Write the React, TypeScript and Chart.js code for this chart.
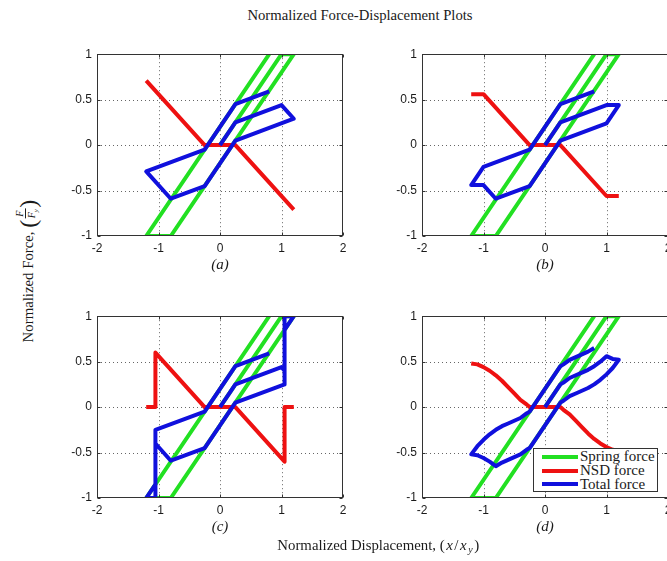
import React, { useEffect, useRef } from 'react';
import { Chart, registerables } from 'chart.js';

Chart.register(...registerables);

// ---- data ----
const xTicks = [-2, -1, 0, 1, 2];
const yTicks = [-1, -0.5, 0, 0.5, 1];
const seriesNames = ['Spring force', 'NSD force', 'Total force'];

// spring force (elasto-plastic, same in every panel)
const springX = [0, 1.0, 1.2, -0.8, -1.2, 0.8];
const springY = [0, 1.0, 1.0, -1.0, -1.0, 1.0];

// (a)
const nsdAX = [-1.2, -0.25, 0.25, 1.2];
const nsdAY = [0.71, 0, 0, -0.71];
const totAX = [0, 0.25, 1.0, 1.2, 0.25, -0.25, -0.8, -1.2, -0.25, 0.25, 0.8];
const totAY = [0, 0.25, 0.44, 0.29, 0.05, -0.45, -0.59, -0.29, -0.05, 0.45, 0.59];

// (b)
const nsdBX = [-1.2, -1.0, -0.25, 0.25, 1.0, 1.2];
const nsdBY = [0.56, 0.56, 0, 0, -0.56, -0.56];
const totBX = [0, 0.25, 1.0, 1.2, 1.0, 0.25, -0.25, -0.8, -1.0, -1.2, -1.0, -0.25, 0.25, 0.8];
const totBY = [0, 0.25, 0.44, 0.44, 0.24, 0.05, -0.45, -0.59, -0.44, -0.44, -0.24, -0.05, 0.45, 0.59];

// (c)
const nsdCX = [-1.2, -1.05, -1.05, -0.25, 0.25, 1.05, 1.05, 1.2];
const nsdCY = [0, 0, 0.6, 0, 0, -0.6, 0, 0];
const totCX = [0, 0.25, 1.0, 1.05, 1.05, 1.2, 1.05, 1.05, 0.25, -0.25, -0.8, -1.05, -1.05, -1.2, -1.05, -1.05, -0.25, 0.25, 0.8];
const totCY = [0, 0.25, 0.44, 0.4, 1.0, 1.0, 0.85, 0.25, 0.05, -0.45, -0.59, -0.4, -1.0, -1.0, -0.85, -0.25, -0.05, 0.45, 0.59];

// (d)
const nsdDX = [-1.2, -1.1, -1.0, -0.9, -0.8, -0.7, -0.6, -0.5, -0.4, -0.3, -0.25, 0.25, 0.3, 0.4, 0.5, 0.6, 0.7, 0.8, 0.9, 1.0, 1.1, 1.2];
const nsdDY = [0.48, 0.47, 0.44, 0.4, 0.35, 0.29, 0.22, 0.15, 0.08, 0.03, 0, 0, -0.03, -0.08, -0.15, -0.22, -0.29, -0.35, -0.4, -0.44, -0.47, -0.48];
const totDX = [
  0, 0.25, 0.3, 0.4, 0.5, 0.6, 0.7, 0.8, 0.9, 1.0, 1.1, 1.2,
  1.1, 1.0, 0.9, 0.8, 0.7, 0.6, 0.5, 0.4, 0.3, 0.25,
  -0.25, -0.3, -0.4, -0.5, -0.6, -0.7, -0.8, -0.9, -1.0, -1.1, -1.2,
  -1.1, -1.0, -0.9, -0.8, -0.7, -0.6, -0.5, -0.4, -0.3, -0.25,
  0.25, 0.3, 0.4, 0.5, 0.6, 0.7, 0.8,
];
const totDY = [
  0, 0.25, 0.27, 0.32, 0.35, 0.38, 0.41, 0.45, 0.5, 0.56, 0.53, 0.52,
  0.43, 0.36, 0.3, 0.25, 0.21, 0.18, 0.15, 0.12, 0.07, 0.05,
  -0.45, -0.47, -0.52, -0.55, -0.58, -0.61, -0.65, -0.6, -0.56, -0.53, -0.52,
  -0.43, -0.36, -0.3, -0.25, -0.21, -0.18, -0.15, -0.12, -0.07, -0.05,
  0.45, 0.47, 0.52, 0.55, 0.58, 0.61, 0.65,
];

// ---- styles ----
const GREEN = '#22e022';
const RED = '#ee1111';
const BLUE = '#1010dd';
const TEXT = '#1a1a1a';
const SERIF = '"Liberation Serif", "Times New Roman", serif';
const SANS = '"Liberation Sans", Arial, sans-serif';

const PLOT_W = 246;
const PLOT_H = 189;
const AXIS_W = 40;
const AXIS_H = 40;
const PAD_TOP = 5;
const PAD_RIGHT = 12;

const pts = (xs: number[], ys: number[]) => xs.map((x, i) => ({ x, y: ys[i] }));

const matlabAxes = {
  id: 'matlabAxes',
  beforeDatasetsDraw(chart: any) {
    const { ctx, chartArea: a, scales } = chart;
    const x = scales.x;
    const y = scales.y;
    ctx.save();
    ctx.strokeStyle = '#666';
    ctx.lineWidth = 1;
    ctx.setLineDash([1, 3]);
    xTicks.forEach((v) => {
      if (v <= x.min || v >= x.max) return;
      const p = Math.round(x.getPixelForValue(v)) + 0.5;
      ctx.beginPath();
      ctx.moveTo(p, a.top);
      ctx.lineTo(p, a.bottom);
      ctx.stroke();
    });
    yTicks.forEach((v) => {
      if (v <= y.min || v >= y.max) return;
      const p = Math.round(y.getPixelForValue(v)) + 0.5;
      ctx.beginPath();
      ctx.moveTo(a.left, p);
      ctx.lineTo(a.right, p);
      ctx.stroke();
    });
    ctx.restore();
  },
  afterDatasetsDraw(chart: any) {
    const { ctx, chartArea: a, scales } = chart;
    const x = scales.x;
    const y = scales.y;
    const L = Math.round(a.left) + 0.5;
    const R = Math.round(a.right) - 0.5;
    const T = Math.round(a.top) + 0.5;
    const B = Math.round(a.bottom) - 0.5;
    ctx.save();
    ctx.strokeStyle = '#333';
    ctx.lineWidth = 1;
    ctx.setLineDash([]);
    ctx.strokeRect(L, T, R - L, B - T);
    const tl = 3;
    ctx.beginPath();
    xTicks.forEach((v) => {
      const p = Math.round(x.getPixelForValue(v)) + 0.5;
      ctx.moveTo(p, B);
      ctx.lineTo(p, B - tl);
      ctx.moveTo(p, T);
      ctx.lineTo(p, T + tl);
    });
    yTicks.forEach((v) => {
      const p = Math.round(y.getPixelForValue(v)) + 0.5;
      ctx.moveTo(L, p);
      ctx.lineTo(L + tl, p);
      ctx.moveTo(R, p);
      ctx.lineTo(R - tl, p);
    });
    ctx.stroke();
    ctx.restore();
  },
};

type PanelProps = {
  label: string;
  left: number;
  top: number;
  nsdX: number[];
  nsdY: number[];
  totX: number[];
  totY: number[];
};

function Panel({ label, left, top, nsdX, nsdY, totX, totY }: PanelProps) {
  const ref = useRef<HTMLCanvasElement | null>(null);
  useEffect(() => {
    if (!ref.current) return;
    const line = (data: any, color: string, order: number, name: string) => ({
      label: name,
      data,
      borderColor: color,
      backgroundColor: color,
      borderWidth: 4,
      pointRadius: 0,
      pointHoverRadius: 0,
      fill: false,
      tension: 0,
      order,
      clip: 0,
      borderJoinStyle: 'round' as const,
    });
    const tickFont = { family: SANS, size: 12 };
    const chart = new Chart(ref.current, {
      type: 'line',
      data: {
        datasets: [
          line(pts(springX, springY), GREEN, 3, seriesNames[0]),
          line(pts(nsdX, nsdY), RED, 2, seriesNames[1]),
          line(pts(totX, totY), BLUE, 1, seriesNames[2]),
        ],
      },
      options: {
        responsive: false,
        maintainAspectRatio: false,
        animation: false,
        events: [],
        layout: { padding: { top: PAD_TOP, right: PAD_RIGHT, left: 0, bottom: 0 } },
        plugins: {
          legend: { display: false },
          tooltip: { enabled: false },
          title: { display: false },
        },
        scales: {
          x: {
            type: 'linear',
            min: -2,
            max: 2,
            afterBuildTicks: (s: any) => {
              s.ticks = xTicks.map((v) => ({ value: v }));
            },
            afterFit: (s: any) => {
              s.height = AXIS_H;
            },
            grid: { display: false, drawTicks: false },
            border: { display: false },
            ticks: {
              autoSkip: false,
              maxRotation: 0,
              padding: 5,
              color: TEXT,
              font: tickFont,
              callback: (v: any) => String(v),
            },
            title: {
              display: true,
              text: label,
              color: TEXT,
              font: { family: SERIF, size: 15, style: 'italic' },
              padding: { top: 0, bottom: 2 },
            },
          },
          y: {
            type: 'linear',
            min: -1,
            max: 1,
            afterBuildTicks: (s: any) => {
              s.ticks = yTicks.map((v) => ({ value: v }));
            },
            afterFit: (s: any) => {
              s.width = AXIS_W;
            },
            grid: { display: false, drawTicks: false },
            border: { display: false },
            ticks: {
              autoSkip: false,
              padding: 5,
              color: TEXT,
              font: tickFont,
              callback: (v: any) => String(v),
            },
          },
        },
      } as any,
      plugins: [matlabAxes],
    });
    return () => chart.destroy();
  }, []);
  return (
    <canvas
      ref={ref}
      width={AXIS_W + PLOT_W + PAD_RIGHT}
      height={PAD_TOP + PLOT_H + AXIS_H}
      style={{ position: 'absolute', left: left - AXIS_W, top: top - PAD_TOP }}
    />
  );
}

function Legend({ left, top }: { left: number; top: number }) {
  const colors = [GREEN, RED, BLUE];
  return (
    <div
      style={{
        position: 'absolute',
        left,
        top,
        width: 125,
        height: 44,
        border: '1px solid #333',
        background: '#fff',
        boxSizing: 'border-box',
        paddingTop: 1,
      }}
    >
      {seriesNames.map((n, i) => (
        <div key={n} style={{ display: 'flex', alignItems: 'center', height: 13.7 }}>
          <div style={{ marginLeft: 8, width: 36, height: 4, background: colors[i] }} />
          <span
            style={{
              marginLeft: 2,
              fontFamily: SERIF,
              fontSize: 15,
              lineHeight: '13px',
              color: TEXT,
              whiteSpace: 'nowrap',
            }}
          >
            {n}
          </span>
        </div>
      ))}
    </div>
  );
}

export default function App() {
  return (
    <div
      style={{
        position: 'fixed',
        left: 0,
        top: 0,
        width: 667,
        height: 561,
        overflow: 'hidden',
        background: '#fff',
      }}
    >
      <div
        style={{
          position: 'absolute',
          left: 160,
          width: 400,
          top: 7,
          textAlign: 'center',
          fontFamily: SERIF,
          fontSize: 14.7,
          lineHeight: '16px',
          color: TEXT,
          whiteSpace: 'nowrap',
        }}
      >
        Normalized Force-Displacement Plots
      </div>

      <Panel label="(a)" left={97} top={47} nsdX={nsdAX} nsdY={nsdAY} totX={totAX} totY={totAY} />
      <Panel label="(b)" left={422} top={47} nsdX={nsdBX} nsdY={nsdBY} totX={totBX} totY={totBY} />
      <Panel label="(c)" left={97} top={309} nsdX={nsdCX} nsdY={nsdCY} totX={totCX} totY={totCY} />
      <Panel label="(d)" left={422} top={309} nsdX={nsdDX} nsdY={nsdDY} totX={totDX} totY={totDY} />

      <Legend left={533} top={448} />

      <div
        style={{
          position: 'absolute',
          left: 179,
          width: 400,
          top: 537,
          textAlign: 'center',
          fontFamily: SERIF,
          fontSize: 14.8,
          lineHeight: '16px',
          color: TEXT,
          whiteSpace: 'nowrap',
        }}
      >
        Normalized Displacement,{' '}
        <span style={{ fontSize: 15, letterSpacing: 1.5 }}>
          (<i>x</i>/<i>x</i>
          <sub style={{ fontSize: 10, fontStyle: 'italic', verticalAlign: '-3px', lineHeight: 0 }}>y</sub>)
        </span>
      </div>

      <div
        style={{
          position: 'absolute',
          left: 28,
          top: 271,
          transform: 'translate(-50%, -50%) rotate(-90deg)',
          fontFamily: SERIF,
          fontSize: 14.8,
          color: TEXT,
          whiteSpace: 'nowrap',
          display: 'flex',
          alignItems: 'center',
        }}
      >
        <span>Normalized Force,&nbsp;</span>
        <span style={{ fontSize: 24, lineHeight: '24px' }}>(</span>
        <span
          style={{
            display: 'inline-flex',
            flexDirection: 'column',
            alignItems: 'center',
            fontSize: 10,
            lineHeight: '11px',
            fontStyle: 'italic',
            margin: '0 1px',
          }}
        >
          <span style={{ borderBottom: '1px solid #222', padding: '0 2px' }}>F</span>
          <span>
            F<sub style={{ fontSize: 7 }}>y</sub>
          </span>
        </span>
        <span style={{ fontSize: 24, lineHeight: '24px' }}>)</span>
      </div>
    </div>
  );
}
